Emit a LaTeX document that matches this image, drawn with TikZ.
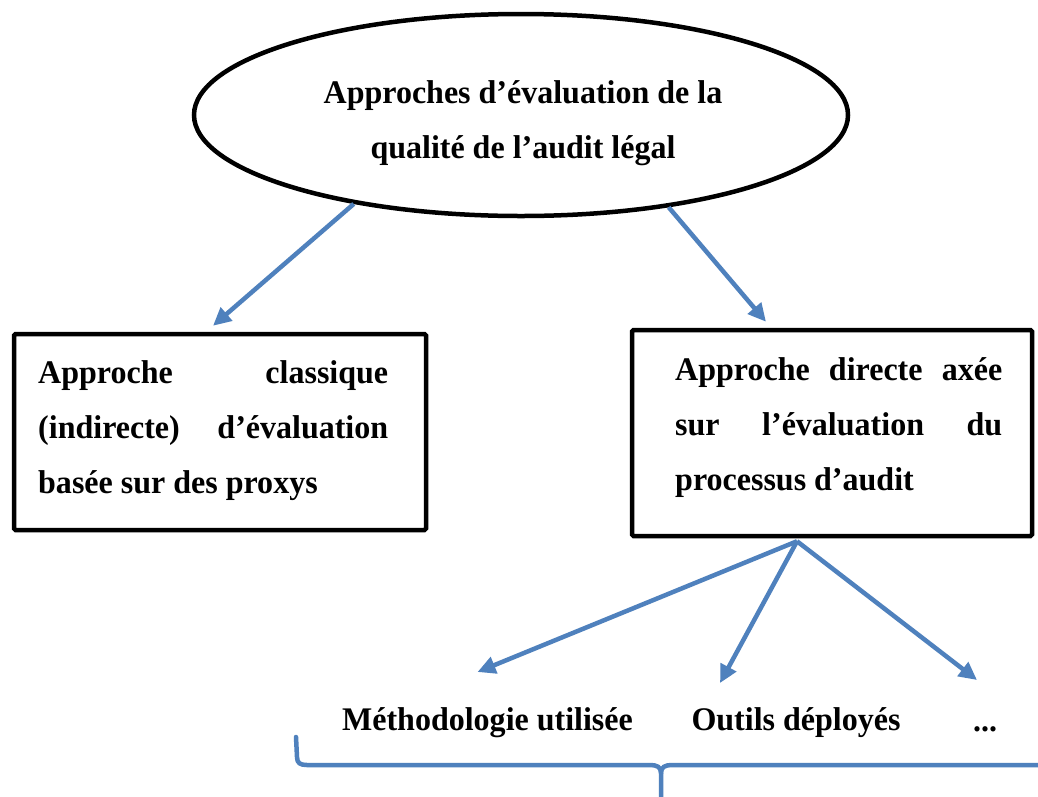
\documentclass[tikz,border=0pt]{standalone}
\usepackage{fontspec}
\setmainfont{Liberation Serif}[FakeStretch=0.97]
\usetikzlibrary{arrows.meta,shapes.geometric,calc}
\definecolor{linkblue}{RGB}{79,129,189}
\tikzset{
  frame/.style={draw=black, line width=4.5pt, rounded corners=1.5pt, inner sep=0pt},
  oval/.style={draw=black, line width=4.5pt, ellipse, inner sep=0pt},
  txt/.style={font=\fontsize{33}{55}\selectfont\bfseries, inner sep=0pt, align=left},
  link/.style={draw=linkblue, line width=4.5pt, -{Triangle[length=18pt,width=17pt]}},
  bracket/.style={draw=linkblue, line width=4.5pt, line cap=round, line join=round}
}
\begin{document}
\begin{tikzpicture}[x=1pt,y=-1pt]
\useasboundingbox[fill=white] (0,0) rectangle (1038,796);

% top ellipse with its title (base anchor = last baseline)
\node[oval, minimum width=654, minimum height=202] (root) at (521,115) {};
\node[txt, align=center, anchor=base] (roottext) at (523,158)
  {Approches d’évaluation de la\\qualité de l’audit légal};

% the two approaches
\node[frame, minimum width=412, minimum height=196] (left) at (220,432) {};
\node[txt, anchor=base west] (lefttext) at (38,493)
  {\makebox[350pt][s]{Approche classique}\\
   \makebox[350pt][s]{(indirecte) d’évaluation}\\
   basée sur des proxys};

\node[frame, minimum width=400, minimum height=206] (right) at (832,433) {};
\node[txt, anchor=base west] (righttext) at (675,490)
  {\makebox[327pt][s]{Approche directe axée}\\
   \makebox[327pt][s]{sur l’évaluation du}\\
   processus d’audit};

% components of the direct approach
\node[txt, anchor=base] (meth) at (487.5,730) {Méthodologie utilisée};
\node[txt, anchor=base] (tools) at (796,730) {Outils déployés};
\node[txt, anchor=base] (dots) at (985,731) {...};

% connectors
\draw[link] (root.208) -- ($(left.north)+(-7,-6)$);
\draw[link] (root.-32) -- ($(right.north)+(-66,-6)$);
\coordinate (hub) at ($(right.south)+(-35,3)$);
\draw[link] (hub) -- ($(meth.base)+(-10,-58)$);
\draw[link] (hub) -- ($(tools.base)+(-76,-47)$);
\draw[link] (hub) -- ($(dots.base)+(-8,-51)$);

% grouping brace under the components
\draw[bracket] (296,737) -- (297,757) .. controls (297,763) and (300,765) .. (307,765)
  -- (650,765) .. controls (657,765) and (661,767) .. (661,773) -- (661,800);
\draw[bracket] (1042,765) -- (672,765) .. controls (665,765) and (661,767) .. (661,773);
\end{tikzpicture}
\end{document}
